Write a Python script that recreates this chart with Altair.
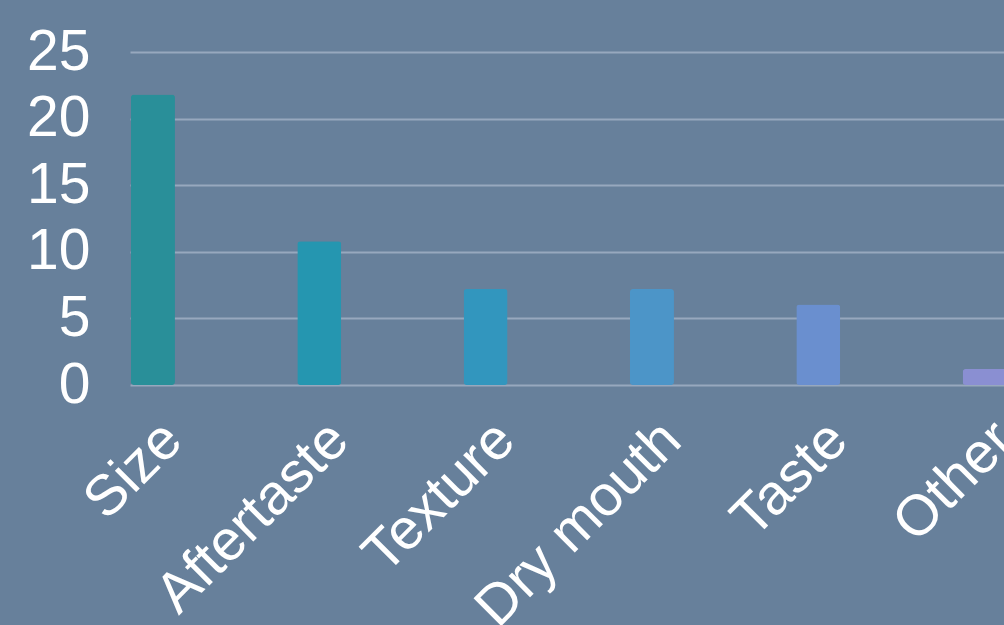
import altair as alt
import pandas as pd

categories = ["Size", "Aftertaste", "Texture", "Dry mouth", "Taste", "Other"]
values = [21.8, 10.8, 7.2, 7.2, 6.05, 1.2]
colors = ["#298F99", "#2596B0", "#3296BE", "#4C95C8", "#6A8FCF", "#8A8FD2"]
y_ticks = [0, 5, 10, 15, 20, 25]

df = pd.DataFrame({"category": categories, "value": values})

BG = "#67809B"
GRID = "#97A8BE"
FONT = "Liberation Sans"

chart = (
    alt.Chart(df)
    .mark_bar(width=44, xOffset=-60.2, cornerRadius=3)
    .encode(
        x=alt.X(
            "category:N",
            sort=categories,
            scale=alt.Scale(range=[0, 998], paddingInner=0, paddingOuter=0),
            axis=alt.Axis(
                title=None,
                labelAngle=-45,
                labelAlign="right",
                labelBaseline="top",
                labelFontSize=57,
                labelColor="white",
                labelFont=FONT,
                labelPadding=26,
                labelOffset=-60,
                labelLimit=0,
                ticks=False,
                domain=False,
                grid=False,
                labelOverlap=False,
                labelBound=False,
                labelFlush=False,
            ),
        ),
        y=alt.Y(
            "value:Q",
            scale=alt.Scale(domain=[0, 25], nice=False),
            axis=alt.Axis(
                title=None,
                values=y_ticks,
                labelFontSize=57,
                labelColor="white",
                labelFont=FONT,
                labelPadding=40,
                ticks=False,
                tickSize=0,
                domain=False,
                grid=True,
                gridColor=GRID,
                gridWidth=2,
                labelFlush=False,
                labelOverlap=False,
                labelBound=False,
            ),
        ),
        color=alt.Color(
            "category:N",
            scale=alt.Scale(domain=categories, range=colors),
            legend=None,
        ),
    )
    .properties(
        width=874,
        height=333,
        background=BG,
        padding={"left": 130, "top": 52, "right": 0, "bottom": 240},
        autosize=alt.AutoSizeParams(type="none"),
    )
    .configure_view(stroke=None)
)

chart.save("out.html", embed_options={"renderer": "svg", "actions": False})
